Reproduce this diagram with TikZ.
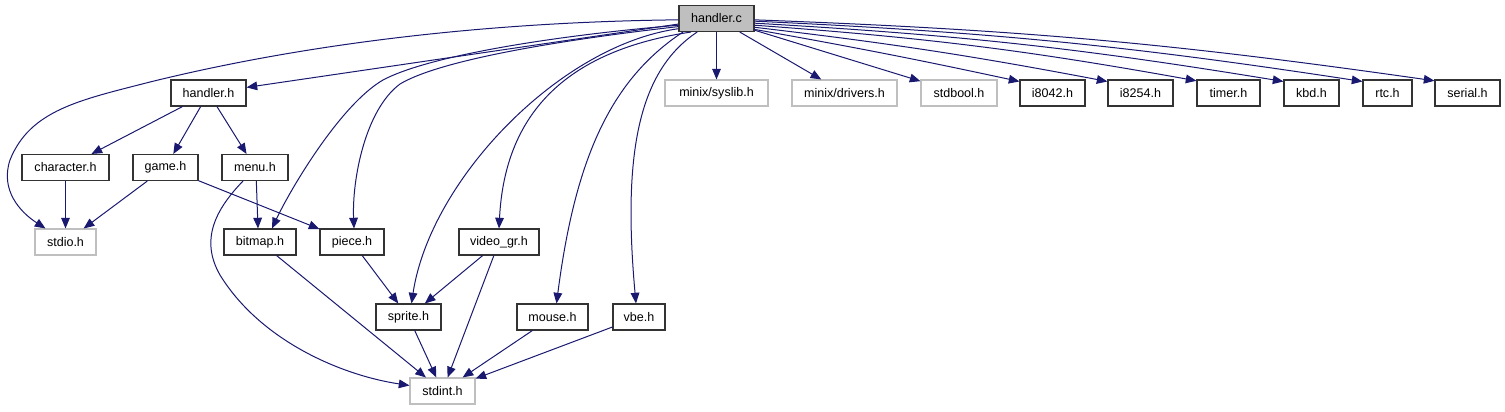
\documentclass[tikz,border=0pt]{standalone}
\usepackage{fontspec}
\setmainfont{Liberation Sans}
\usetikzlibrary{arrows.meta}
\definecolor{edgec}{HTML}{191970}
\definecolor{grayb}{HTML}{BFBFBF}
\tikzset{
  box/.style={draw=black!80, line width=0.8pt, fill=white, inner sep=0pt,
    minimum height=26*0.75pt, font=\fontsize{9.4}{11}\selectfont},
  gbox/.style={box, draw=grayb},
  bw/.style={minimum width=#1*0.75pt},
  edge/.style={draw=edgec, line width=0.75pt, -{Triangle[length=8pt,width=6.5pt]}},
}
\begin{document}
\begin{tikzpicture}[x=0.75pt,y=-0.75pt]
\useasboundingbox (0,0) rectangle (1505,411);
% nodes
\node[box, bw=75, fill=grayb] (hc) at (716.5,18.5) {handler.c};
\node[box, bw=75] (hh) at (208.5,93) {handler.h};
\node[box, bw=87] (ch) at (65.5,167.5) {character.h};
\node[box, bw=65] (game) at (165.5,167.5) {game.h};
\node[box, bw=66] (menu) at (255,167.5) {menu.h};
\node[gbox, bw=61] (stdio) at (65.5,242) {stdio.h};
\node[box, bw=72] (bitmap) at (260,242) {bitmap.h};
\node[box, bw=64] (piece) at (352,242) {piece.h};
\node[box, bw=80] (vgr) at (499,242) {video\_gr.h};
\node[box, bw=65] (sprite) at (408.5,317) {sprite.h};
\node[gbox, bw=65] (stdint) at (442.5,391) {stdint.h};
\node[box, bw=71] (mouse) at (552.5,317) {mouse.h};
\node[box, bw=52] (vbe) at (639,317) {vbe.h};
\node[gbox, bw=103] (syslib) at (716.5,93) {minix/syslib.h};
\node[gbox, bw=105] (drivers) at (844.5,93) {minix/drivers.h};
\node[gbox, bw=76] (stdbool) at (959,93) {stdbool.h};
\node[box, bw=65] (i8042) at (1052.5,93) {i8042.h};
\node[box, bw=65] (i8254) at (1140.5,93) {i8254.h};
\node[box, bw=63] (timer) at (1228.5,93) {timer.h};
\node[box, bw=55] (kbd) at (1311.5,93) {kbd.h};
\node[box, bw=49] (rtc) at (1387.5,93) {rtc.h};
\node[box, bw=65] (serial) at (1467.5,93) {serial.h};
% edges from handler.c
\path[edge] (hc.-178) .. controls (480,22) and (300,45) .. (150,82)
  .. controls (80,100) and (30,110) .. (10,160)
  .. controls (0,190) and (20,212) .. ([xshift=-15pt]stdio.north);
\path[edge] (hc) -- (hh);
\path[edge] (hc.-170) .. controls (560,35) and (430,55) .. (383,80)
  .. controls (340,105) and (290,190) .. ([xshift=9pt]bitmap.north);
\path[edge] (hc.-168) .. controls (560,40) and (440,60) .. (400,84)
  .. controls (365,110) and (352,180) .. ([xshift=1.5pt]piece.north);
\path[edge] (hc.-165) .. controls (560,45) and (430,180) .. ([xshift=2.25pt]sprite.north);
\path[edge] (hc.-152) .. controls (570,50) and (505,110) .. (vgr.north);
\path[edge] (hc.-158) .. controls (610,80) and (575,160) .. ([xshift=3pt]mouse.north);
\path[edge] (hc.-145) .. controls (640,70) and (622,150) .. ([xshift=-2.25pt]vbe.north);
\path[edge] (hc) -- (syslib);
\path[edge] (hc) -- (drivers);
\path[edge] (hc) -- (stdbool);
\path[edge] (hc.-16) to[bend left=1] ([yshift=-1.5pt]i8042.north west);
\path[edge] (hc.-13) to[bend left=2] ([yshift=-1.5pt]i8254.north west);
\path[edge] (hc.-10) to[bend left=3] ([yshift=-1pt]timer.north west);
\path[edge] (hc.-7) to[bend left=3] ([yshift=-1.5pt]kbd.north west);
\path[edge] (hc.-4) to[bend left=3] ([yshift=-1.5pt]rtc.north west);
\path[edge] (hc.-2) to[bend left=3] ([yshift=-1pt]serial.north west);
% handler.h
\path[edge] (hh) -- (ch);
\path[edge] (hh) -- (game);
\path[edge] (hh) -- (menu);
\path[edge] (ch) -- (stdio);
\path[edge] (game) -- (stdio);
\path[edge] (game) -- (piece);
\path[edge] ([xshift=1pt]menu.south) -- ([xshift=-1.5pt]bitmap.north);
\path[edge] ([xshift=-9pt]menu.south) .. controls (215,210) and (200,240) .. (220,275)
  .. controls (260,340) and (340,375) .. ([yshift=-6pt]stdint.north west);
\path[edge] (bitmap) -- (stdint);
\path[edge] (piece) -- (sprite);
\path[edge] (vgr) -- (sprite);
\path[edge] (vgr) -- (stdint);
\path[edge] (sprite) -- (stdint);
\path[edge] (mouse) -- (stdint);
\path[edge] (vbe) -- (stdint);
\end{tikzpicture}
\end{document}
